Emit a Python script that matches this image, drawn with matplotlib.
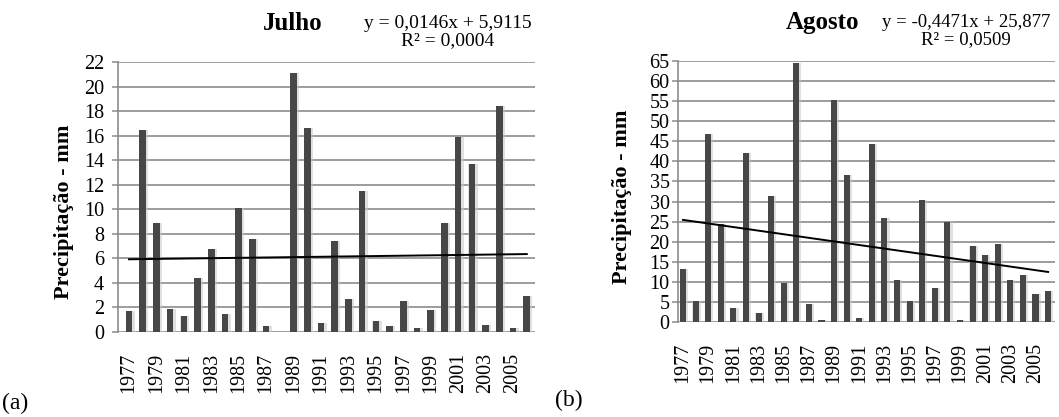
import matplotlib
matplotlib.use("Agg")
import matplotlib.pyplot as plt
import numpy as np

plt.rcParams['font.family'] = ['Liberation Serif', 'DejaVu Serif']

# -----------------------
# Monthly precipitation (mm), 1977-2006
# -----------------------
anos = list(range(1977, 2007))

julho = [1.7, 16.5, 8.9, 1.9, 1.3, 4.4, 6.8, 1.5, 10.1, 7.6,
         0.5, 0.0, 21.1, 16.6, 0.7, 7.4, 2.7, 11.5, 0.9, 0.5,
         2.5, 0.3, 1.8, 8.9, 15.9, 13.7, 0.6, 18.4, 0.3, 2.9]

agosto = [13.2, 5.2, 46.7, 24.5, 3.4, 42.1, 2.3, 31.5, 9.8, 64.4,
          4.5, 0.5, 55.3, 36.7, 1.0, 44.4, 25.8, 10.4, 5.3, 30.3,
          8.4, 24.8, 0.5, 18.9, 16.8, 19.5, 10.5, 11.6, 7.0, 7.7]

# linear trend coefficients (x = 1..30)
coef_jul = (0.0146, 5.9115)
coef_ago = (-0.4471, 25.877)
r2_jul = "0,0004"
r2_ago = "0,0509"

GRID = '#8c8c8c'
BAR = '#474747'
W, H = 1059, 417

fig = plt.figure(figsize=(W / 100, H / 100), dpi=100)


def painel(rect, valores, coef, ymax, ystep, xlim, ypad):
    ax = fig.add_axes(rect)
    x = np.arange(len(valores))
    # soft halo behind each bar, then the bar itself
    ax.bar(x + 0.08, valores, width=0.66, color='#c8c8c8', alpha=0.55, zorder=2)
    ax.bar(x, valores, width=0.48, color=BAR, zorder=3)
    xs = np.array([x[0], x[-1]])
    ax.plot(xs, coef[0] * (xs + 1) + coef[1], color='black', lw=1.4, zorder=4)

    ax.set_ylim(0, ymax)
    ax.set_yticks(np.arange(0, ymax + 0.1, ystep))
    ax.set_xlim(*xlim)
    ax.set_xticks(x[::2])
    ax.set_xticklabels([str(a) for a in anos[::2]], rotation=90, fontsize=14.5)
    ax.tick_params(axis='x', length=0, pad=15)
    ax.tick_params(axis='y', length=4, width=1.1, color=GRID, labelsize=14.5, pad=ypad)
    ax.grid(axis='y', color=GRID, lw=1.2, zorder=0)
    for s in ['top', 'right', 'bottom']:
        ax.spines[s].set_visible(False)
    ax.spines['left'].set_color(GRID)
    ax.spines['left'].set_linewidth(1.2)
    return ax


ax1 = painel([118 / W, 1 - 332 / H, 417 / W, 270 / H], julho, coef_jul, 22, 2, (-0.8, 29.6), 6)
ax2 = painel([678 / W, 1 - 322 / H, 377 / W, 261 / H], agosto, coef_ago, 65, 5, (-0.4, 29.55), 2)

# y-axis titles
fig.text(64 / W, 1 - 212 / H, 'Precipitação - mm', fontsize=16, fontweight='bold',
         rotation=90, ha='center', va='center')
fig.text(622 / W, 1 - 197 / H, 'Precipitação - mm', fontsize=16, fontweight='bold',
         rotation=90, ha='center', va='center')

# titles and trend equations
fig.text(293 / W, 1 - 24 / H, 'Julho', fontsize=18, fontweight='bold', ha='center', va='center')
fig.text(448 / W, 1 - 32 / H,
         'y = 0,0146x + 5,9115\nR² = %s' % r2_jul,
         fontsize=14, ha='center', va='center', linespacing=1.05)

fig.text(823 / W, 1 - 22 / H, 'Agosto', fontsize=18, fontweight='bold', ha='center', va='center')
fig.text(966 / W, 1 - 31 / H,
         'y = -0,4471x + 25,877\nR² = %s' % r2_ago,
         fontsize=13.5, ha='center', va='center', linespacing=1.05)

fig.text(2 / W, 1 - 403 / H, '(a)', fontsize=17, ha='left', va='center')
fig.text(555 / W, 1 - 400 / H, '(b)', fontsize=17, ha='left', va='center')

fig.savefig('out.png', dpi=100)
